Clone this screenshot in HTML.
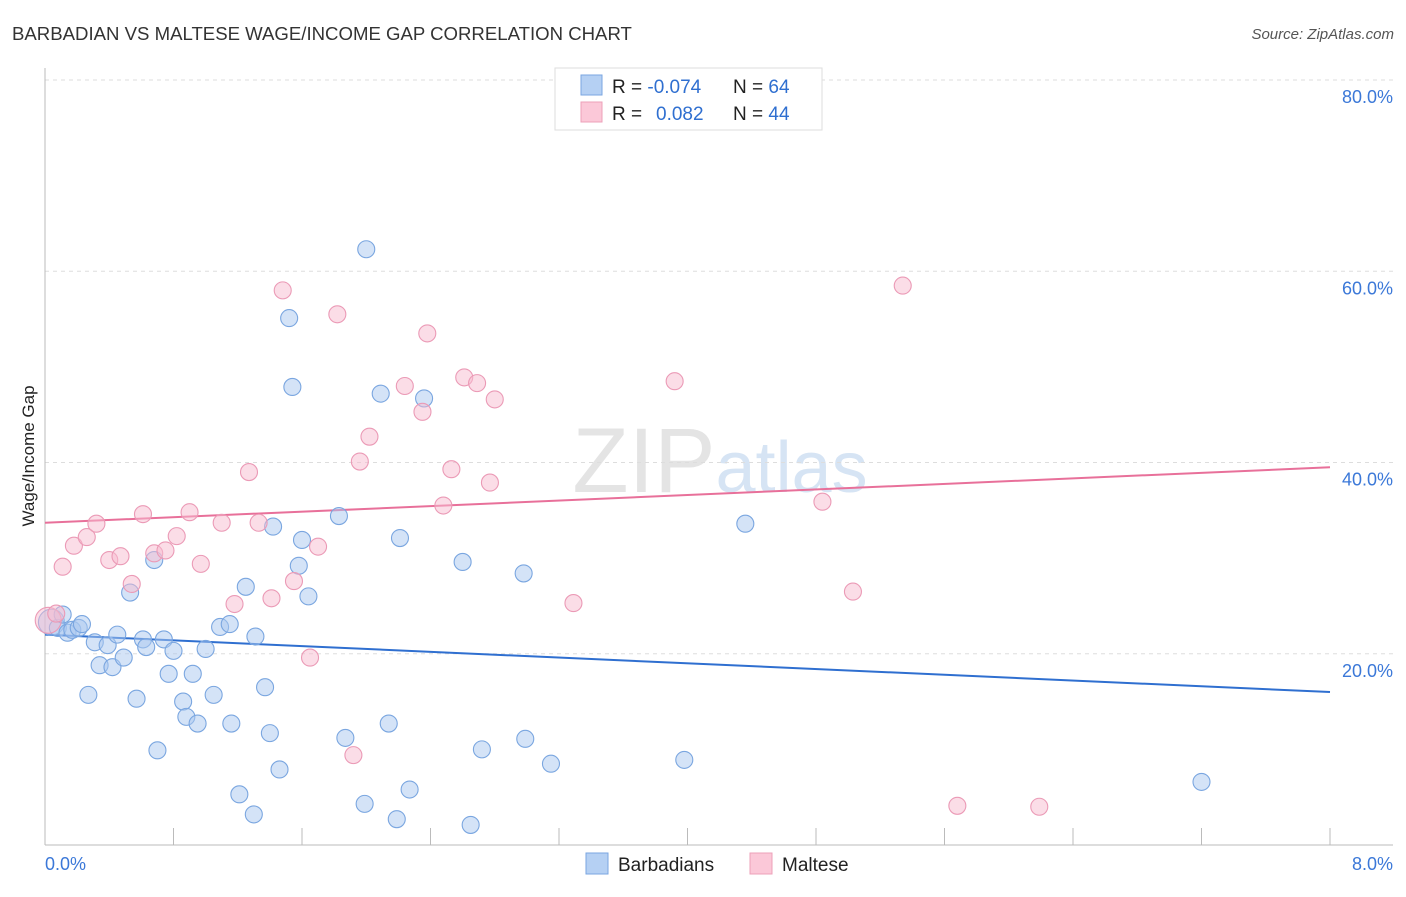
<!DOCTYPE html>
<html><head><meta charset="utf-8"><style>
body{margin:0;background:#fff;font-family:"Liberation Sans",sans-serif}
svg text{font-family:"Liberation Sans",sans-serif}
</style></head><body>
<svg id="chart" width="1406" height="892">
<text x="12" y="40" font-size="18.6" fill="#333">BARBADIAN VS MALTESE WAGE/INCOME GAP CORRELATION CHART</text>
<text x="1394" y="39" font-size="15" fill="#555" font-style="italic" text-anchor="end">Source: ZipAtlas.com</text>
<text x="720" y="492" font-size="92" fill="#e4e4e4" text-anchor="middle" font-family="Liberation Serif">ZIP<tspan fill="#d6e4f4" font-family="Liberation Sans" font-size="72">atlas</tspan></text>
<g id="grid"></g><g id="axes"></g><g id="lines"></g><g id="pts"></g>
<text x="34" y="456" font-size="17" fill="#222" text-anchor="middle" transform="rotate(-90 34 456)">Wage/Income Gap</text>
<g>
<rect x="555" y="68" width="267" height="62" fill="#fff" stroke="#ddd"/>
<rect x="581" y="75" width="21" height="20" fill="#b5d0f3" stroke="#7aa6e0"/>
<rect x="581" y="102" width="21" height="20" fill="#fbc8d8" stroke="#eda0b9"/>
<text x="612" y="93" font-size="19" fill="#222">R = <tspan fill="#2f6fd0">-0.074</tspan></text>
<text x="733" y="93" font-size="19" fill="#222">N = <tspan fill="#2f6fd0">64</tspan></text>
<text x="612" y="120" font-size="19" fill="#222">R = <tspan fill="#2f6fd0" x="656">0.082</tspan></text>
<text x="733" y="120" font-size="19" fill="#222">N = <tspan fill="#2f6fd0">44</tspan></text>
</g>
<g>
<rect x="586" y="853" width="22" height="21" fill="#b5d0f3" stroke="#7aa6e0"/>
<text x="618" y="871" font-size="19" fill="#222">Barbadians</text>
<rect x="750" y="853" width="22" height="21" fill="#fbc8d8" stroke="#eda0b9"/>
<text x="782" y="871" font-size="19" fill="#222">Maltese</text>
</g>
</svg>
<script>
const blueX=[0.04,0.08,0.11,0.14,0.17,0.21,0.23,0.27,0.31,0.34,0.39,0.42,0.45,0.49,0.53,0.57,0.61,0.63,0.68,0.70,0.74,0.77,0.80,0.86,0.88,0.92,0.95,1.00,1.05,1.09,1.15,1.16,1.21,1.25,1.30,1.31,1.37,1.40,1.42,1.46,1.52,1.54,1.58,1.60,1.64,1.83,1.87,1.99,2.00,2.09,2.14,2.19,2.21,2.27,2.36,2.60,2.65,2.72,2.98,2.99,3.15,3.98,4.36,7.20];
const blueY=[23.3,22.7,24.1,22.2,22.5,22.7,23.1,15.7,21.2,18.8,20.9,18.6,22.0,19.6,26.4,15.3,21.5,20.7,29.8,9.9,21.5,17.9,20.3,15.0,13.4,17.9,12.7,20.5,15.7,22.8,23.1,12.7,5.3,27.0,3.2,21.8,16.5,11.7,33.3,7.9,55.1,47.9,29.2,31.9,26.0,34.4,11.2,4.3,62.3,47.2,12.7,2.7,32.1,5.8,46.7,29.6,2.1,10.0,28.4,11.1,8.5,8.9,33.6,6.6];
const pinkX=[0.02,0.07,0.11,0.18,0.26,0.32,0.40,0.47,0.54,0.61,0.68,0.75,0.82,0.90,0.97,1.10,1.18,1.27,1.33,1.41,1.48,1.55,1.65,1.70,1.82,1.92,1.96,2.02,2.24,2.35,2.38,2.48,2.53,2.61,2.69,2.77,2.80,3.29,3.92,4.84,5.03,5.34,5.68,6.19];
const pinkY=[23.5,24.2,29.1,31.3,32.2,33.6,29.8,30.2,27.3,34.6,30.5,30.8,32.3,34.8,29.4,33.7,25.2,39.0,33.7,25.8,58.0,27.6,19.6,31.2,55.5,9.4,40.1,42.7,48.0,45.3,53.5,35.5,39.3,48.9,48.3,37.9,46.6,25.3,48.5,35.9,26.5,58.5,4.1,4.0];
const blueTrend=[22.0,16.0];
const pinkTrend=[33.7,39.5];
const yTicks=[20,40,60,80];
const xTickLabels=["0.0%","8.0%"];
const NS="http://www.w3.org/2000/svg";
const sx=v=>45+v*160.625, sy=v=>845-v*9.5625;
function mk(p,t,a){const e=document.createElementNS(NS,t);for(const k in a)e.setAttribute(k,a[k]);p.appendChild(e);return e;}
const grid=document.getElementById('grid'),axes=document.getElementById('axes'),lines=document.getElementById('lines'),pts=document.getElementById('pts');
yTicks.forEach(t=>{
 const l=mk(grid,'line',{x1:45,x2:1393,y1:sy(t),y2:sy(t),stroke:'#ddd','stroke-dasharray':'4,4'});
 
 
 const tx=mk(grid,'text',{x:1393,y:sy(t)+23,'font-size':18,fill:'#3b78d8','text-anchor':'end'});tx.textContent=t+'.0%';
 
 
});
mk(axes,'line',{x1:45,x2:45,y1:68,y2:845,stroke:'#bbb'});
mk(axes,'line',{x1:45,x2:1393,y1:845,y2:845,stroke:'#bbb'});
for(let i=0;i<=10;i++){const x=sx(i*0.8);const t=mk(axes,'line',{x1:x,x2:x,y1:828,y2:845,stroke:'#bbb'});
 
 }
const a0=mk(axes,'text',{x:45,y:870,'font-size':18,fill:'#3b78d8'});a0.textContent=xTickLabels[0];


const a1=mk(axes,'text',{x:1393,y:870,'font-size':18,fill:'#3b78d8','text-anchor':'end'});a1.textContent=xTickLabels[1];


function pointsFor(X,Y,fill,stroke,name){X.forEach((x,i)=>{
 const c=mk(pts,'circle',{cx:sx(x),cy:sy(Y[i]),r:(i===0?13:8.5),fill:fill,'fill-opacity':0.5,stroke:stroke,'stroke-width':1.1});
 
 
});}
pointsFor(blueX,blueY,'#a9c7f0','#7aa6e0','barbadian-point');
pointsFor(pinkX,pinkY,'#f8bcd0','#eb9ab6','maltese-point');
const bl=mk(lines,'line',{x1:sx(0),y1:sy(blueTrend[0]),x2:sx(8),y2:sy(blueTrend[1]),stroke:'#2f6fd0','stroke-width':2});


const pl=mk(lines,'line',{x1:sx(0),y1:sy(pinkTrend[0]),x2:sx(8),y2:sy(pinkTrend[1]),stroke:'#e8709a','stroke-width':2});


</script>
</body></html>
